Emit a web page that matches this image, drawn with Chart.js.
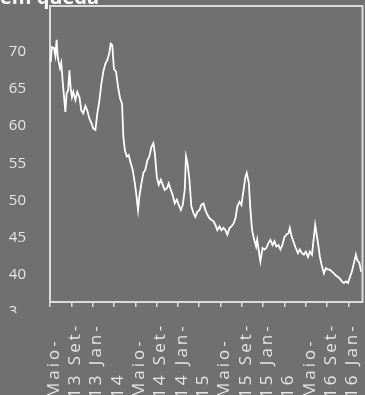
<!DOCTYPE html>
<html>
<head>
<meta charset="utf-8">
<script src="https://cdn.jsdelivr.net/npm/chart.js@4"></script>
<style>
  html, body { margin: 0; padding: 0; background: #707070; }
  #grafico { display: block; }
</style>
</head>
<body>
<canvas id="grafico" width="365" height="395"></canvas>
<script>
// posição no tempo (10 unidades = 1 marca do eixo) e preço
const semanas = [0.3, 0.9, 1.9, 2.5, 3.1, 3.6, 4.7, 5.3, 6.0, 6.6, 7.2, 7.8, 8.5, 9.1, 9.7,
  10.3, 10.9, 11.9, 12.8, 13.8, 14.7, 15.6, 16.6, 17.5, 18.5, 19.4, 20.3, 21.3, 22.2, 23.1,
  24.1, 25.0, 26.0, 26.9, 27.8, 28.5, 29.2, 30.0, 31.0, 31.9, 32.9, 33.8, 34.4, 35.1, 36.0,
  36.9, 37.9, 38.8, 39.8, 40.4, 41.3, 41.9, 42.9, 43.8, 44.7, 45.7, 46.6, 47.6, 48.5, 49.2,
  50.1, 51.0, 52.0, 52.9, 53.8, 54.8, 55.7, 56.7, 57.6, 58.5, 59.5, 60.4, 61.4, 62.3, 63.2,
  63.8, 64.5, 65.4, 66.3, 67.3, 68.2, 69.2, 70.1, 71.0, 72.0, 72.9, 73.8, 74.8, 75.7, 76.7,
  77.6, 78.5, 79.5, 80.4, 81.4, 82.3, 83.2, 84.2, 85.1, 86.1, 87.0, 87.9, 88.9, 89.8, 90.8,
  91.7, 92.3, 93.3, 93.9, 94.8, 95.8, 96.7, 97.2, 98.1, 98.7, 99.7, 100.6, 101.5, 102.5, 103.4,
  104.4, 105.3, 106.2, 107.2, 108.1, 109.0, 110.0, 110.9, 111.9, 112.5, 113.4, 114.4, 115.3, 116.3, 117.2,
  118.2, 119.1, 120.0, 121.0, 121.9, 122.9, 123.8, 124.4, 125.0, 125.7, 126.6, 127.6, 128.5, 129.4, 130.4,
  131.3, 132.3, 133.2, 134.1, 135.1, 136.0, 136.9, 137.9, 138.8, 139.8, 140.7, 141.6, 142.6, 143.5, 144.1,
  145.1, 146.0];
const precos = [68.6, 70.6, 70.5, 69.5, 71.6, 69.3, 67.8, 68.5, 65.8, 63.9, 61.9, 64.4, 64.8, 67.5, 65.1,
  63.9, 64.6, 63.5, 64.6, 63.9, 62.1, 61.7, 62.7, 62.1, 61.0, 60.4, 59.7, 59.5, 61.7, 63.3,
  65.7, 67.3, 68.4, 68.9, 69.8, 71.1, 70.9, 67.7, 67.3, 65.3, 63.7, 63.0, 58.6, 56.8, 55.9,
  56.1, 55.0, 54.1, 52.3, 51.0, 48.7, 50.5, 52.3, 53.7, 54.1, 55.4, 55.9, 57.2, 57.7, 56.3,
  53.2, 52.1, 52.8, 52.1, 51.4, 51.6, 52.3, 51.4, 50.7, 49.6, 50.1, 49.4, 48.7, 49.4, 51.4,
  55.9, 55.0, 52.8, 49.2, 48.3, 47.8, 48.5, 48.7, 49.4, 49.6, 48.7, 48.1, 47.6, 47.4, 47.2,
  46.7, 46.0, 46.5, 46.0, 46.3, 46.0, 45.4, 46.3, 46.5, 46.9, 47.6, 49.2, 49.8, 49.4, 51.4,
  53.2, 53.7, 52.3, 49.2, 46.0, 44.7, 43.8, 44.7, 42.9, 41.8, 43.6, 43.4, 43.6, 44.3, 44.7,
  44.0, 44.5, 43.8, 44.0, 43.4, 44.0, 45.1, 45.4, 45.6, 46.3, 45.1, 44.3, 43.6, 42.9, 43.4,
  42.9, 42.7, 43.1, 42.4, 43.1, 42.7, 45.1, 46.7, 45.6, 44.3, 42.4, 41.1, 40.2, 40.9, 40.7,
  40.7, 40.4, 40.2, 39.9, 39.7, 39.5, 39.1, 38.9, 39.1, 38.9, 39.7, 40.4, 41.6, 42.7, 42.0,
  41.6, 40.4];

const marcasX = [0, 10, 20, 30, 40, 50, 60, 70, 80, 90, 100, 110, 120, 130, 140];
const rotulosX = ["Maio-", "13 Set-", "13 Jan-", "14", "Maio-", "14 Set-", "14 Jan-", "15",
  "Maio-", "15 Set-", "15 Jan-", "16", "Maio-", "16 Set-", "16 Jan-"];
const marcasY = [40, 45, 50, 55, 60, 65, 70];

const cinzaEixo = '#dcdcdc';
const corTexto = '#e6e6e6';

// moldura, rótulos rodados do eixo x, "35" cortado e título cortado
const extras = {
  id: 'extras',
  afterDraw(chart) {
    const ctx = chart.ctx;
    const a = chart.chartArea;
    const x = chart.scales.x, y = chart.scales.y;

    ctx.save();
    ctx.strokeStyle = cinzaEixo;
    ctx.lineWidth = 2;
    ctx.beginPath();
    ctx.moveTo(a.left, a.top);
    ctx.lineTo(a.right, a.top);
    ctx.lineTo(a.right, a.bottom);
    ctx.stroke();
    ctx.restore();

    ctx.save();
    ctx.fillStyle = corTexto;
    ctx.font = '17px "Open Sans"';
    ctx.letterSpacing = '3px';
    ctx.textAlign = 'left';
    ctx.textBaseline = 'middle';
    marcasX.forEach((v, i) => {
      ctx.save();
      ctx.translate(x.getPixelForValue(v) + 4, 398);
      ctx.rotate(-Math.PI / 2);
      ctx.fillText(rotulosX[i], 0, 0);
      ctx.restore();
    });
    ctx.restore();

    ctx.save();
    ctx.beginPath();
    ctx.rect(0, 0, 17, 313);
    ctx.clip();
    ctx.fillStyle = corTexto;
    ctx.font = '15px "Open Sans"';
    ctx.textAlign = 'right';
    ctx.textBaseline = 'middle';
    ctx.fillText('35', 26, y.getPixelForValue(35));
    ctx.restore();

    ctx.save();
    ctx.fillStyle = '#ffffff';
    ctx.font = 'bold 20px "Open Sans"';
    ctx.textAlign = 'left';
    ctx.textBaseline = 'alphabetic';
    ctx.fillText('em queda', 0, 4);
    ctx.restore();
  }
};

new Chart(document.getElementById('grafico'), {
  type: 'line',
  data: {
    datasets: [{
      data: semanas.map((s, i) => ({ x: s, y: precos[i] })),
      borderColor: '#ffffff',
      borderWidth: 1.8,
      pointRadius: 0,
      tension: 0
    }]
  },
  options: {
    responsive: false,
    animation: false,
    devicePixelRatio: 1,
    layout: { autoPadding: false, padding: { top: 6, right: 2.5, left: 0, bottom: 0 } },
    plugins: { legend: { display: false }, tooltip: { enabled: false } },
    scales: {
      x: {
        type: 'linear',
        min: 0,
        max: 146.6,
        afterBuildTicks: s => { s.ticks = marcasX.map(v => ({ value: v })); },
        afterFit: s => { s.height = 93; s.paddingLeft = 0; s.paddingRight = 0; },
        ticks: { display: false },
        grid: { display: true, drawOnChartArea: false, drawTicks: true, tickLength: 5, color: cinzaEixo, lineWidth: 1.5 },
        border: { color: cinzaEixo, width: 2 }
      },
      y: {
        min: 36.34,
        max: 76.15,
        afterBuildTicks: s => { s.ticks = marcasY.map(v => ({ value: v })); },
        afterFit: s => { s.width = 50; s.paddingTop = 0; s.paddingBottom = 0; },
        ticks: { color: corTexto, font: { family: 'Open Sans', size: 15 }, padding: 24 },
        grid: { display: false, drawTicks: false },
        border: { color: cinzaEixo, width: 2 }
      }
    }
  },
  plugins: [extras]
});
</script>
</body>
</html>
